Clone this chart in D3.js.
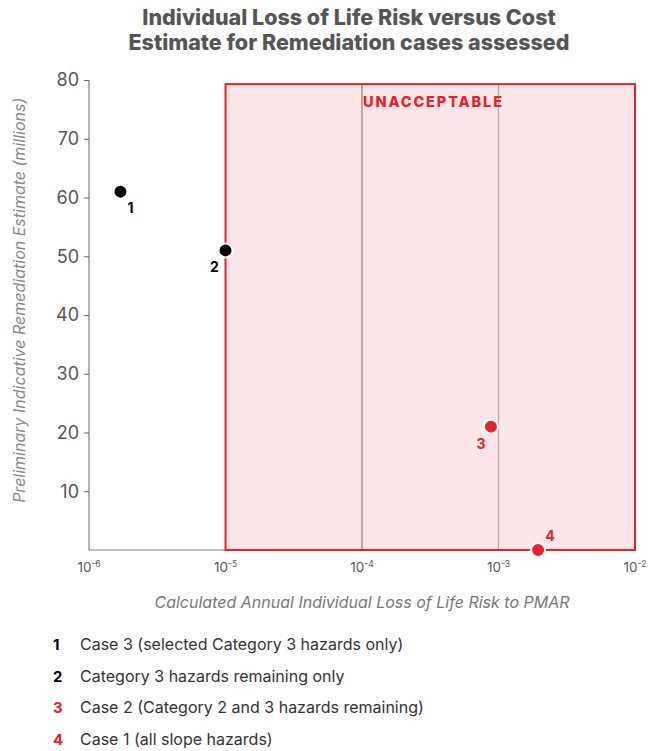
<!DOCTYPE html>
<html><head><meta charset="utf-8">
<script src="https://cdn.jsdelivr.net/npm/d3@7/dist/d3.min.js"></script>
<style>body{margin:0;background:#fff;} text{font-family:"Inter","Noto Sans",sans-serif;}</style>
</head><body>
<svg id="c" width="660" height="751"></svg>
<script>
const titleLines = ["Individual Loss of Life Risk versus Cost", "Estimate for Remediation cases assessed"];
const xTitle = "Calculated Annual Individual Loss of Life Risk to PMAR";
const yTitle = "Preliminary Indicative Remediation Estimate (millions)";
const xTickExps = [-6, -5, -4, -3, -2];
const yTicks = [10, 20, 30, 40, 50, 60, 70, 80];
const caseIds = ["1", "2", "3", "4"];
const risk = [1.7e-6, 1.0e-5, 8.8e-4, 1.95e-3];
const cost = [61, 51, 21, 0];
const caseColor = ["black", "black", "red", "red"];
const legendText = ["Case 3 (selected Category 3 hazards only)", "Category 3 hazards remaining only", "Case 2 (Category 2 and 3 hazards remaining)", "Case 1 (all slope hazards)"];
const zone = {x0: 1e-5, x1: 1e-2, y0: 0, y1: 79.3, label: "UNACCEPTABLE"};
const gridX = [1e-4, 1e-3];

const RED = "#e8222c", BLACK = "#000";
const svg = d3.select("#c");
const x = d3.scaleLog().domain([1e-6, 1e-2]).range([89, 635]);
const y = d3.scaleLinear().domain([0, 80]).range([550, 80]);

// title
svg.append("text").attr("x", 349).attr("text-anchor", "middle").attr("fill", "#555")
  .style("font-size", "21.5px").style("font-weight", "800")
  .selectAll("tspan").data(titleLines).join("tspan")
  .attr("x", 349).attr("y", (d, i) => 25 + i * 25).text(d => d);

// zone
svg.append("rect").attr("x", x(zone.x0)).attr("y", y(zone.y1))
  .attr("width", x(zone.x1) - x(zone.x0)).attr("height", y(zone.y0) - y(zone.y1))
  .attr("fill", "#fce6e8");
svg.selectAll(".grid").data(gridX).join("line")
  .attr("x1", d => x(d)).attr("x2", d => x(d)).attr("y1", y(zone.y1)).attr("y2", y(0))
  .attr("stroke", (d, i) => i === 0 ? "#8a7f80" : "#b9a5a7").attr("stroke-width", 1.2);

// axes
const yAxis = svg.append("g").attr("transform", "translate(89,0)")
  .call(d3.axisLeft(y).tickValues(yTicks).tickSize(5).tickPadding(5));
yAxis.select(".domain").attr("stroke", "#666").attr("d", `M-0,${y(80)}H0V${y(0)}`);
yAxis.selectAll(".tick line").attr("stroke", "#666");
yAxis.selectAll(".tick text").attr("fill", "#555").style("font-size", "18px").style("font-family", "Inter, sans-serif");

svg.append("line").attr("x1", x(1e-6)).attr("x2", x(1e-2)).attr("y1", y(0)).attr("y2", y(0))
  .attr("stroke", "#777").attr("stroke-width", 1);

svg.append("rect").attr("x", x(zone.x0)).attr("y", y(zone.y1))
  .attr("width", x(zone.x1) - x(zone.x0)).attr("height", y(zone.y0) - y(zone.y1))
  .attr("fill", "none").attr("stroke", RED).attr("stroke-width", 2);

svg.append("text").attr("x", x(1e-4) + 1).attr("y", 107).attr("fill", RED)
  .style("font-size", "14.5px").style("font-weight", "800").attr("textLength", 139)
  .text(zone.label);

// x tick labels
const xt = svg.selectAll(".xt").data(xTickExps).join("text")
  .attr("x", d => x(Math.pow(10, d))).attr("y", 572).attr("text-anchor", "middle")
  .attr("fill", "#555").style("font-size", "13.5px");
xt.append("tspan").text("10");
xt.append("tspan").attr("dy", -5).style("font-size", "8.5px").text(d => "-" + Math.abs(d));

// axis titles
svg.append("text").attr("x", 362).attr("y", 608).attr("text-anchor", "middle")
  .attr("fill", "#777").style("font-size", "16px").style("font-style", "italic").text(xTitle);
svg.append("text").attr("transform", `translate(25,${y(42.5)}) rotate(-90)`).attr("text-anchor", "middle")
  .attr("fill", "#888").style("font-size", "16px").style("font-style", "italic").text(yTitle);

// points
const pts = risk.map((r, i) => ({r, c: cost[i], id: caseIds[i], col: caseColor[i] === "red" ? RED : BLACK}));
const labelOff = [[10, 21], [-11, 22], [-10, 22], [12, -9]];
svg.selectAll(".pt").data(pts).join("circle")
  .attr("cx", d => x(d.r)).attr("cy", d => y(d.c)).attr("r", 7)
  .attr("fill", d => d.col).attr("stroke", "#fff").attr("stroke-width", 2);
svg.selectAll(".pl").data(pts).join("text")
  .attr("x", (d, i) => x(d.r) + labelOff[i][0]).attr("y", (d, i) => y(d.c) + labelOff[i][1])
  .attr("text-anchor", "middle").attr("fill", d => d.col)
  .style("font-size", "14px").style("font-weight", "700").text(d => d.id);

// legend
const lg = svg.selectAll(".lg").data(pts).join("g")
  .attr("transform", (d, i) => `translate(0,${650 + i * 31.7})`);
lg.append("text").attr("x", 53).attr("fill", d => d.col).style("font-size", "15px").style("font-weight", "700").text(d => d.id);
lg.append("text").attr("x", 80).attr("fill", "#333").style("font-size", "16px").text((d, i) => legendText[i]);
</script>
</body></html>
